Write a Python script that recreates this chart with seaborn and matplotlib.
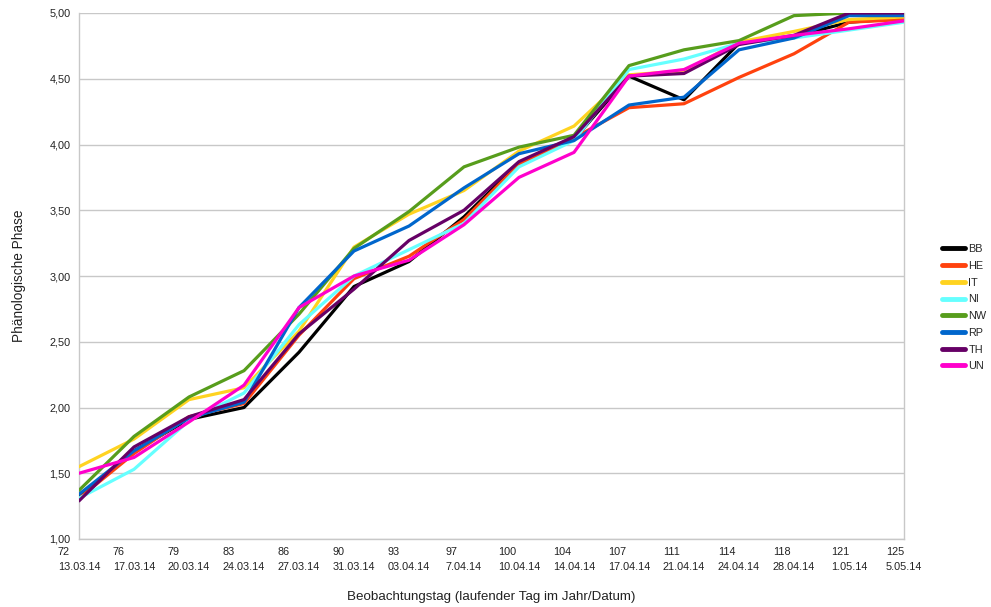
import matplotlib
matplotlib.use("Agg")
import matplotlib.pyplot as plt
import seaborn as sns
import pandas as pd
import numpy as np

days = ["72", "76", "79", "83", "86", "90", "93", "97", "100", "104", "107", "111", "114", "118", "121", "125"]
dates = ["13.03.14", "17.03.14", "20.03.14", "24.03.14", "27.03.14", "31.03.14", "03.04.14", "7.04.14",
         "10.04.14", "14.04.14", "17.04.14", "21.04.14", "24.04.14", "28.04.14", "1.05.14", "5.05.14"]

BB = [1.32, 1.67, 1.91, 2.00, 2.42, 2.92, 3.11, 3.45, 3.86, 4.04, 4.52, 4.34, 4.77, 4.82, 4.93, 4.96]
HE = [1.31, 1.65, 1.93, 2.03, 2.55, 2.98, 3.15, 3.43, 3.85, 4.05, 4.28, 4.31, 4.51, 4.69, 4.93, 4.95]
IT = [1.55, 1.76, 2.06, 2.15, 2.58, 3.22, 3.47, 3.65, 3.95, 4.14, 4.53, 4.56, 4.78, 4.86, 4.95, 4.97]
NI = [1.31, 1.53, 1.90, 2.11, 2.63, 3.00, 3.20, 3.40, 3.83, 4.03, 4.57, 4.65, 4.77, 4.81, 4.87, 4.93]
NW = [1.37, 1.78, 2.08, 2.28, 2.71, 3.21, 3.49, 3.83, 3.98, 4.07, 4.60, 4.72, 4.79, 4.98, 5.00, 5.00]
RP = [1.34, 1.67, 1.92, 2.04, 2.76, 3.19, 3.38, 3.67, 3.93, 4.03, 4.30, 4.36, 4.72, 4.81, 4.98, 4.98]
TH = [1.29, 1.70, 1.93, 2.06, 2.56, 2.90, 3.27, 3.50, 3.87, 4.06, 4.52, 4.54, 4.76, 4.83, 5.00, 5.00]
UN = [1.50, 1.62, 1.89, 2.17, 2.76, 3.00, 3.12, 3.39, 3.75, 3.94, 4.52, 4.57, 4.77, 4.83, 4.88, 4.94]

series = {"BB": BB, "HE": HE, "IT": IT, "NI": NI, "NW": NW, "RP": RP, "TH": TH, "UN": UN}
colors = {"BB": "#000000", "HE": "#ff420e", "IT": "#ffd320", "NI": "#66ffff",
          "NW": "#579d1c", "RP": "#0066cc", "TH": "#660066", "UN": "#ff00cc"}

rows = []
for name, vals in series.items():
    for i, v in enumerate(vals):
        rows.append({"pos": i, "value": v, "Region": name})
df = pd.DataFrame(rows)

sns.set_style("white")
plt.rcParams["font.family"] = ["Liberation Sans", "DejaVu Sans"]

fig = plt.figure(figsize=(9.91, 6.07), dpi=100)
ax = fig.add_axes([79 / 991, 1 - 539 / 607, (904 - 79) / 991, (539 - 13) / 607])

sns.lineplot(data=df, x="pos", y="value", hue="Region", palette=colors,
             linewidth=2.3, ax=ax, legend=False, zorder=3)

ax.set_xlim(0, len(days) - 1)
ax.set_ylim(1.0, 5.0)
yt = np.arange(1.0, 5.01, 0.5)
ax.set_yticks(yt)
ax.set_yticklabels([f"{v:.2f}".replace(".", ",") for v in yt], fontsize=7.8, color="#222222")
ax.set_xticks(range(len(days)))
ax.set_xticklabels([f"{d}\n{t}" for d, t in zip(days, dates)], fontsize=7.8,
                   color="#222222", multialignment="left", linespacing=1.55)
ax.grid(axis="y", color="#c8c8c8", linewidth=1.0, zorder=0)
for s in ["left", "bottom", "right"]:
    ax.spines[s].set_color("#c8c8c8")
    ax.spines[s].set_linewidth(1.0)
ax.spines["top"].set_visible(False)
ax.tick_params(axis="both", which="both", length=4, color="#c8c8c8", direction="out", pad=2)

ax.set_xlabel("Beobachtungstag (laufender Tag im Jahr/Datum)", fontsize=9.6, color="#222222", labelpad=14)
ax.set_ylabel("Phänologische Phase", fontsize=9.8, color="#222222", labelpad=17)

handles = [plt.Line2D([0], [0], color=colors[n], linewidth=3.5) for n in series]
fig.legend(handles, list(series.keys()), loc="center left", bbox_to_anchor=(0.946, 0.493),
           frameon=False, fontsize=7.8, handlelength=2.1, handletextpad=0.35,
           labelspacing=0.62, borderaxespad=0)

fig.savefig("out.png", dpi=100)
